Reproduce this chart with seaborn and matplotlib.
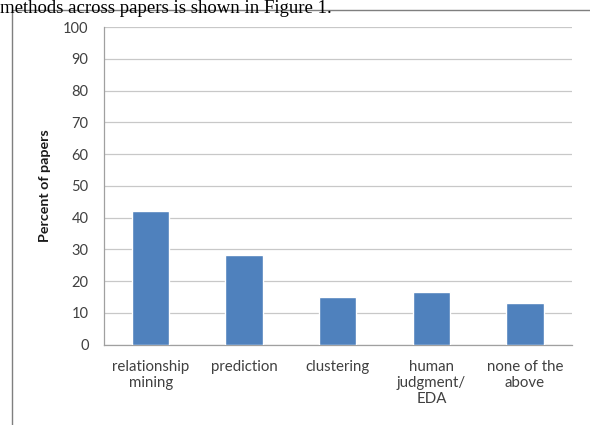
import matplotlib
matplotlib.use("Agg")
import matplotlib.pyplot as plt
import seaborn as sns
import pandas as pd
from matplotlib.patches import Rectangle

categories = ["relationship\nmining", "prediction", "clustering", "human\njudgment/\nEDA", "none of the\nabove"]
values = [42.0, 28.3, 15.1, 16.6, 13.2]
yticks = list(range(0, 101, 10))

df = pd.DataFrame({"category": categories, "percent": values})

sns.set_theme(style="white")
plt.rcParams['font.family'] = ['Lato', 'DejaVu Sans']

fig = plt.figure(figsize=(5.9, 4.25), dpi=100)
ax = fig.add_axes([0.176, 0.189, 0.793, 0.747])

sns.barplot(data=df, x="category", y="percent", color="#4F81BD", width=0.4,
            saturation=1, ax=ax, zorder=3)

ax.set_ylim(0, 100)
ax.set_xlim(-0.5, 4.5)
ax.set_yticks(yticks)
ax.set_yticklabels([str(v) for v in yticks], fontsize=10.5, color="#404040")
ax.set_xticks(range(len(categories)))
ax.set_xticklabels(categories, fontsize=10.8, color="#404040", linespacing=1.2)
ax.set_xticks([i - 0.5 for i in range(len(categories) + 1)], minor=True)
ax.tick_params(axis="x", which="major", length=0, pad=11)
ax.tick_params(axis="x", which="minor", length=4, color="#A0A0A0", direction="out", width=0.8)
ax.tick_params(axis="y", length=5, color="#A0A0A0", direction="out", width=0.8, pad=6)
ax.yaxis.grid(True, color="#C8C8C8", linewidth=0.9, zorder=0)
ax.xaxis.grid(False)
for s in ["top", "right"]:
    ax.spines[s].set_visible(False)
for s in ["left", "bottom"]:
    ax.spines[s].set_color("#A0A0A0")
    ax.spines[s].set_linewidth(0.9)
ax.set_xlabel("")
ax.set_ylabel("Percent of papers", fontsize=10.3, fontweight="bold", color="#1a1a1a", labelpad=9)

# chart frame
fig.patches.append(Rectangle((12 / 590, -0.1), 1.2, 1 - 10 / 425 + 0.1, transform=fig.transFigure,
                             fill=False, edgecolor="#7f7f7f", linewidth=1.0))
fig.text(0.0, 1.0, "methods across papers is shown in Figure 1.", fontsize=13.5,
         family=["Liberation Serif", "DejaVu Serif"], color="black", va="top", ha="left")

fig.savefig("out.png", dpi=100)
